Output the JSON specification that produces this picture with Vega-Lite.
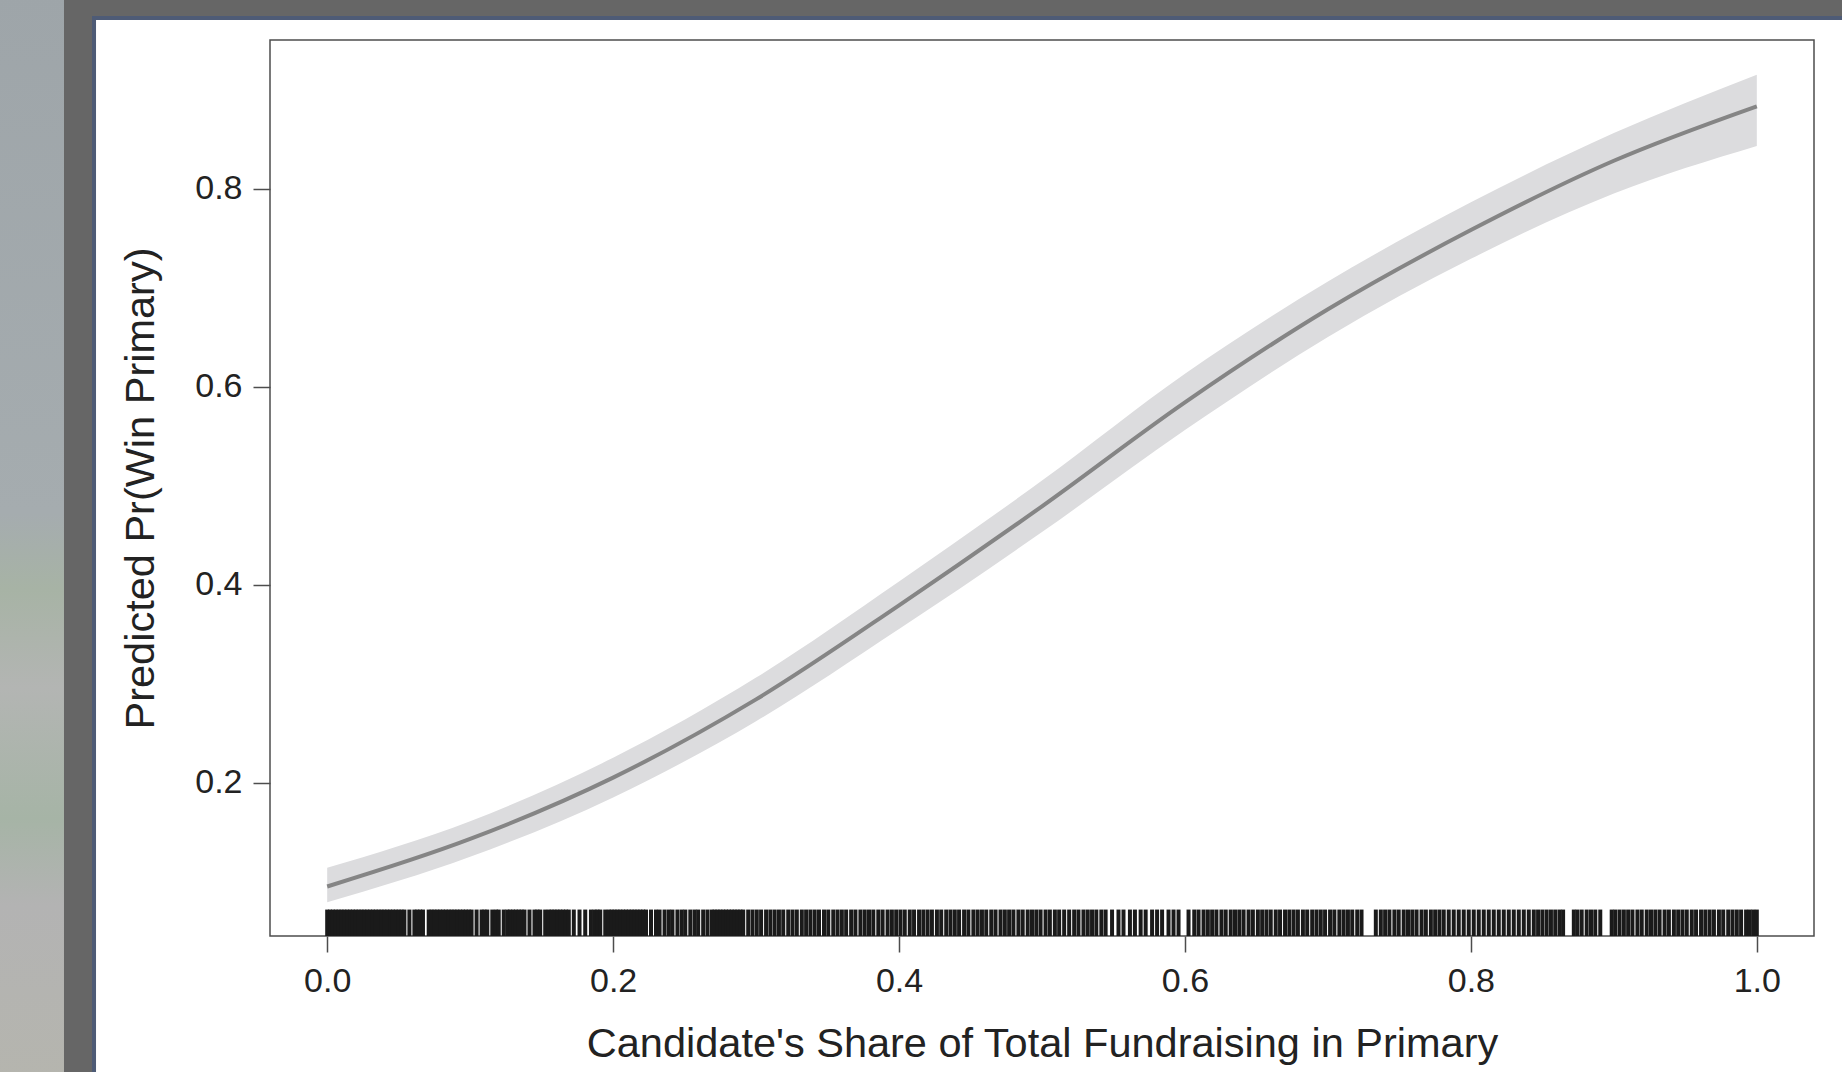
{
  "$schema": "https://vega.github.io/schema/vega-lite/v6.json",
  "autosize": "none",
  "width": 1544,
  "height": 896,
  "padding": {"left": 270, "top": 40, "right": 28, "bottom": 136},
  "background": "white",
  "config": {
    "view": {"stroke": "#4d4d4d", "strokeWidth": 1.5},
    "axis": {
      "domain": false,
      "grid": false,
      "zindex": 1,
      "tickColor": "#4d4d4d",
      "tickWidth": 1.5,
      "labelFont": "Liberation Sans",
      "labelFontSize": 34,
      "labelColor": "#222222",
      "titleFont": "Liberation Sans",
      "titleFontSize": 41.5,
      "titleFontWeight": "normal",
      "titleColor": "#222222"
    }
  },
  "layer": [
    {
      "data": {"values": [{}]},
      "mark": {"type": "rect", "fill": {"x1": 0, "y1": 0, "x2": 0, "y2": 1, "gradient": "linear", "stops": [
        {"offset": 0, "color": "#9ea5a9"},
        {"offset": 0.48, "color": "#a5acaf"},
        {"offset": 0.55, "color": "#a7b3a5"},
        {"offset": 0.64, "color": "#b3b5b3"},
        {"offset": 0.76, "color": "#a6b4a6"},
        {"offset": 0.84, "color": "#b3b3b3"},
        {"offset": 1, "color": "#b5b5ae"}]}},
      "encoding": {
        "x": {"datum": -0.25, "type": "quantitative", "scale": {"domain": [-0.04, 1.04], "nice": false, "zero": false}},
        "x2": {"datum": -0.1841},
        "y": {"datum": -0.1, "type": "quantitative", "scale": {"domain": [0.045, 0.95], "nice": false, "zero": false}},
        "y2": {"datum": 1.0}
      }
    },
    {
      "data": {"values": [{}]},
      "mark": {"type": "rect", "fill": "#666666"},
      "encoding": {
        "x": {"datum": -0.1841, "type": "quantitative"},
        "x2": {"datum": -0.1617},
        "y": {"datum": -0.1, "type": "quantitative"},
        "y2": {"datum": 1.0}
      }
    },
    {
      "data": {"values": [{}]},
      "mark": {"type": "rect", "fill": "#666666"},
      "encoding": {
        "x": {"datum": -0.1841, "type": "quantitative"},
        "x2": {"datum": 1.1},
        "y": {"datum": 0.9702, "type": "quantitative"},
        "y2": {"datum": 1.0}
      }
    },
    {
      "data": {"values": [{}]},
      "mark": {"type": "rect", "fill": "#4e5b76"},
      "encoding": {
        "x": {"datum": -0.1645, "type": "quantitative"},
        "x2": {"datum": -0.1617},
        "y": {"datum": -0.1, "type": "quantitative"},
        "y2": {"datum": 0.9742}
      }
    },
    {
      "data": {"values": [{}]},
      "mark": {"type": "rect", "fill": "#4e5b76"},
      "encoding": {
        "x": {"datum": -0.1645, "type": "quantitative"},
        "x2": {"datum": 1.1},
        "y": {"datum": 0.9702, "type": "quantitative"},
        "y2": {"datum": 0.9742}
      }
    },
    {
      "data": {"name": "curve", "values": [
        {"share": 0.0, "lo": 0.079, "fit": 0.095, "hi": 0.114},
        {"share": 0.1, "lo": 0.125, "fit": 0.143, "hi": 0.161},
        {"share": 0.2, "lo": 0.185, "fit": 0.205, "hi": 0.225},
        {"share": 0.3, "lo": 0.262, "fit": 0.284, "hi": 0.306},
        {"share": 0.4, "lo": 0.355, "fit": 0.379, "hi": 0.403},
        {"share": 0.5, "lo": 0.453, "fit": 0.479, "hi": 0.505},
        {"share": 0.6, "lo": 0.556, "fit": 0.584, "hi": 0.613},
        {"share": 0.7, "lo": 0.650, "fit": 0.678, "hi": 0.706},
        {"share": 0.8, "lo": 0.729, "fit": 0.758, "hi": 0.786},
        {"share": 0.9, "lo": 0.795, "fit": 0.828, "hi": 0.856},
        {"share": 1.0, "lo": 0.843, "fit": 0.883, "hi": 0.915}
      ]},
      "layer": [
        {
          "mark": {"type": "area", "color": "#dcdcde", "interpolate": "monotone"},
          "encoding": {
            "x": {"field": "share", "type": "quantitative",
              "axis": {"values": [0, 0.2, 0.4, 0.6, 0.8, 1.0], "format": ".1f", "tickSize": 16, "labelPadding": 12,
                "title": "Candidate's Share of Total Fundraising in Primary", "titlePadding": 25}},
            "y": {"field": "lo", "type": "quantitative",
              "axis": {"values": [0.2, 0.4, 0.6, 0.8], "format": ".1f", "tickSize": 17, "labelPadding": 11,
                "title": "Predicted Pr(Win Primary)", "titlePadding": 32}},
            "y2": {"field": "hi"}
          }
        },
        {
          "mark": {"type": "line", "color": "#858585", "strokeWidth": 4, "interpolate": "monotone"},
          "encoding": {
            "x": {"field": "share", "type": "quantitative"},
            "y": {"field": "fit", "type": "quantitative"}
          }
        }
      ]
    },
    {
      "data": {"name": "rug", "values": [
        0,0.002,0.004,0.006,0.008,0.010,0.012,0.014,0.016,0.018,0.020,0.022,0.024,0.026,0.028,0.030,0.032,0.034,0.036,0.038,0.040,0.042,0.044,0.046,0.048,0.050,0.052,0.054,
        0.0575,0.061,0.063,0.065,0.067,0.071,0.073,0.075,0.077,0.079,0.081,0.083,0.085,0.087,0.089,0.091,0.093,0.095,0.097,0.099,0.101,
        0.1045,0.108,0.110,0.112,0.1155,0.118,0.120,0.1235,0.126,0.128,0.130,0.132,0.134,0.136,0.138,0.1415,0.145,0.147,0.149,0.1525,
        0.155,0.157,0.159,0.161,0.163,0.165,0.167,0.169,0.1725,0.1765,0.1805,0.1845,0.187,0.189,0.191,0.1945,
        0.197,0.199,0.201,0.203,0.205,0.207,0.209,0.211,0.213,0.215,0.217,0.219,0.221,0.223,
        0.2265,0.23,0.2325,0.236,0.239,0.2415,0.245,0.248,0.2505,0.254,0.257,0.2595,0.263,0.266,
        0.269,0.271,0.273,0.275,0.277,0.279,0.281,0.283,0.285,0.287,0.289,0.291,
        0.2945,0.2975,0.3005,0.3035,0.307,0.31,0.313,0.316,0.319,0.3225,0.3255,0.3285,0.332,0.335,0.338,0.341,0.344,0.3475,0.3505,0.354,
        0.357,0.360,0.363,0.3665,0.3695,0.373,0.376,0.379,0.382,0.3855,0.3885,0.392,0.395,0.398,0.401,0.404,0.4075,0.4105,0.414,0.417,
        0.42,0.423,0.4265,0.4295,0.433,0.436,0.439,0.442,0.4455,0.4485,0.452,0.455,0.458,0.461,0.4645,0.4675,0.471,0.474,0.477,0.48,
        0.4835,0.4865,0.49,0.493,0.496,0.499,0.5025,0.5055,0.509,0.512,0.5155,0.519,
        0.5225,0.5255,0.529,0.532,0.535,0.538,0.5415,0.5445,
        0.549,0.5535,0.557,0.5615,0.565,0.569,0.5725,0.577,0.5805,0.584,0.5885,0.592,0.5955,
        0.6025,0.6065,0.6095,0.613,0.616,0.619,0.622,0.6255,0.6285,0.632,0.635,0.638,0.641,0.6445,0.6475,0.651,0.654,0.657,0.66,0.6635,0.6665,
        0.67,0.673,0.676,0.679,0.6825,0.6855,0.689,0.692,0.695,0.698,0.7015,0.7045,0.708,0.711,0.714,0.717,0.7205,0.7235,
        0.7335,0.737,0.74,0.743,0.7465,0.7495,0.753,0.756,0.759,0.762,0.7655,0.7685,0.772,0.775,0.778,0.781,0.7845,
        0.788,0.7915,0.795,0.7985,0.802,0.8055,0.809,0.8125,0.816,0.8195,0.823,0.8265,0.83,0.8335,0.837,0.8405,0.844,
        0.847,0.85,0.853,0.856,0.859,0.862,0.8645,
        0.872,0.8745,0.8775,0.881,0.884,0.887,0.8905,
        0.8985,0.901,0.904,0.907,0.91,0.913,0.9165,0.9195,0.923,0.926,0.929,0.932,0.9355,0.9385,0.942,0.945,0.948,0.951,0.9545,0.9575,0.961,
        0.964,0.967,0.97,0.9735,0.9765,0.98,0.983,0.986,0.989,0.9925,0.995,0.9975,1.0
      ]},
      "mark": {"type": "rule", "color": "#1a1a1a", "strokeWidth": 4},
      "encoding": {
        "x": {"field": "data", "type": "quantitative"},
        "y": {"datum": 0.0717, "type": "quantitative"},
        "y2": {"datum": 0.045}
      }
    }
  ]
}
